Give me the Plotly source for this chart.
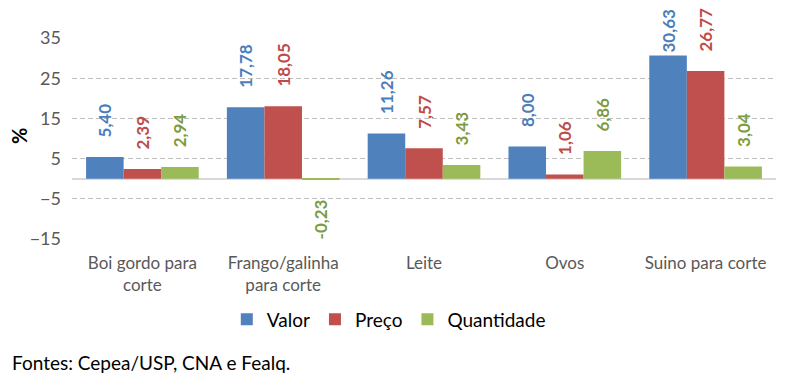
import plotly.graph_objects as go

categories = ["Boi gordo para<br>corte", "Frango/galinha<br>para corte", "Leite", "Ovos", "Suino para corte"]
valor = [5.40, 17.78, 11.26, 8.00, 30.63]
preco = [2.39, 18.05, 7.57, 1.06, 26.77]
quantidade = [2.94, -0.23, 3.43, 6.86, 3.04]
tick_vals = [-15, -5, 5, 15, 25, 35]

series = [("Valor", valor, "#4F81BD", "#4A7EBB"),
          ("Preço", preco, "#C0504D", "#BE4B48"),
          ("Quantidade", quantidade, "#9BBB59", "#7D9B40")]

FONT = "Lato, sans-serif"
NB = "\u00a0" * 4


def label_template(v):
    if v < 0:
        return "%{y:.2f}" + NB
    if v > 30:  # tallest label is pulled down to fit inside the chart, as in the original
        return "%{y:.2f}"
    return NB + "%{y:.2f}"


fig = go.Figure()
for name, vals, col, tcol in series:
    fig.add_trace(go.Bar(
        x=categories, y=vals, name=name, marker=dict(color=col, line=dict(width=0)),
        texttemplate=[label_template(v) for v in vals], textposition="outside", textangle=-90,
        textfont=dict(color=tcol, size=17, family=FONT, weight="bold"),
        cliponaxis=False, constraintext="none",
    ))

# page body has an 8px margin: figure drawn 8px smaller, all offsets shifted by 8
fig.update_layout(
    width=784, height=369,
    margin=dict(l=64, r=16, t=30, b=138, autoexpand=False),
    barmode="group", bargap=0.2, bargroupgap=0,
    separators=",.",
    plot_bgcolor="white", paper_bgcolor="white",
    font=dict(family=FONT, color="#595959", size=17),
    showlegend=True,
    legend=dict(orientation="h", x=0.45, xanchor="center", y=-0.40, yanchor="middle",
                font=dict(size=19, color="#000000"), itemwidth=30, traceorder="normal"),
    xaxis=dict(showgrid=False, showline=False, ticks="", automargin=False,
               ticklabelstandoff=12, tickfont=dict(size=17, color="#595959")),
    yaxis=dict(range=[-15, 35], tickvals=tick_vals, showgrid=True, gridcolor="#BFBFBF",
               griddash="5px,3px", gridwidth=1, zeroline=True, zerolinecolor="#D9D9D9",
               zerolinewidth=1.5, ticks="", automargin=False, ticklabelstandoff=10,
               tickfont=dict(size=18, color="#595959")),
    annotations=[
        dict(text="Fontes: Cepea/USP, CNA e Fealq.", xref="paper", yref="paper",
             x=(10 - 72) / 704, y=(239 - 362) / 201, xanchor="left", yanchor="middle",
             showarrow=False, font=dict(size=19, color="#000000")),
        dict(text="%", xref="paper", yref="paper", x=(19 - 72) / 704, y=(239 - 136) / 201,
             xanchor="center", yanchor="middle", textangle=-90, showarrow=False,
             font=dict(size=20, color="#000000", weight="bold")),
    ],
)

fig.write_html("out.html")
